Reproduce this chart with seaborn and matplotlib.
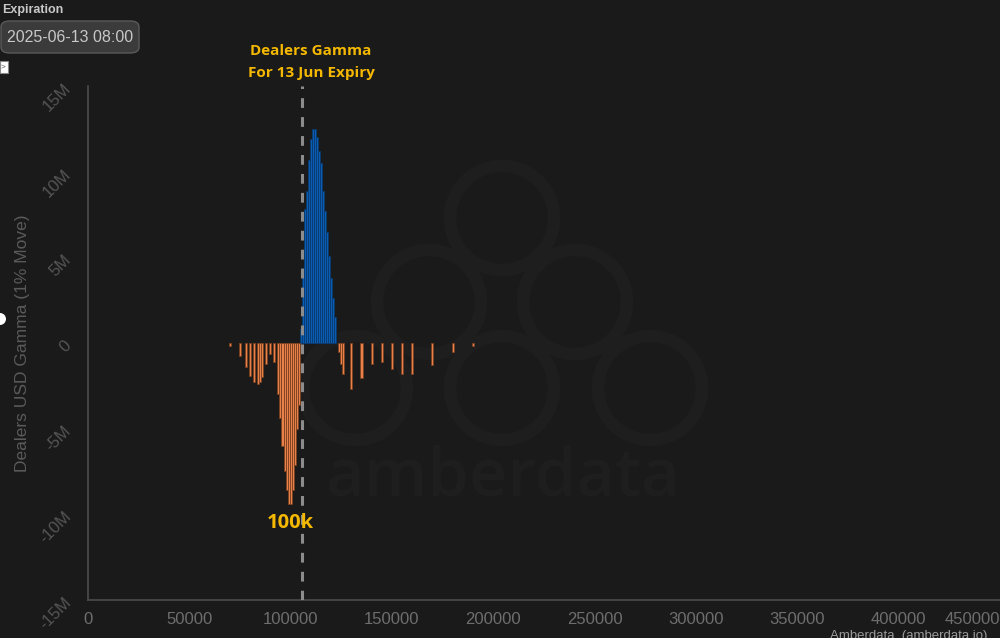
import matplotlib
matplotlib.use("Agg")
import matplotlib.pyplot as plt
import matplotlib.patches as mpatches
from matplotlib.ticker import FuncFormatter
import pandas as pd
import seaborn as sns

# dealers gamma per strike, in millions of USD (1% move)
strikes_pos = [105000, 106000, 107000, 108000, 109000, 110000, 111000, 112000, 113000,
               114000, 115000, 116000, 117000, 118000, 119000, 120000, 121000, 122000]
gamma_pos = [0.8, 4.4, 7.8, 8.9, 10.7, 11.9, 12.5, 12.5, 12.0,
             11.2, 10.5, 8.9, 7.7, 6.5, 5.1, 3.8, 2.6, 1.5]

strikes_neg = [70000, 75000, 78000, 80000, 82000, 84000, 85000, 86000, 88000, 90000,
               92000, 94000, 95000, 96000, 97000, 98000, 99000, 100000, 101000, 102000,
               103000, 104000, 124000, 125000, 126000, 130000, 135000, 140000, 145000,
               150000, 155000, 160000, 170000, 180000, 190000]
gamma_neg = [-0.2, -0.75, -1.4, -1.9, -2.3, -2.4, -2.3, -2.0, -1.2, -0.65,
             -1.1, -3.0, -4.4, -6.0, -7.5, -8.6, -9.4, -9.4, -8.6, -7.1,
             -5.0, -3.6, -0.5, -1.2, -1.8, -2.7, -2.05, -1.25, -1.1,
             -1.5, -1.8, -1.8, -1.3, -0.5, -0.2]

x_ticks = [0, 50000, 100000, 150000, 200000, 250000, 300000, 350000, 400000, 450000]
y_ticks = [-15, -10, -5, 0, 5, 10, 15]

spot = 105400
expiry = "2025-06-13 08:00"

bg = "#1a1a1a"
blue = "#0a5cb2"
orange = "#e8804a"
grey = "#6e6e6e"
gold = "#f5b800"
faint = "#1e1e1e"

sns.set_theme(style="dark", rc={
    "figure.facecolor": bg, "axes.facecolor": bg, "savefig.facecolor": bg,
    "axes.edgecolor": "#4a4a4a", "axes.grid": False,
})
plt.rcParams["font.family"] = ["Liberation Sans", "DejaVu Sans"]

df_pos = pd.DataFrame({"strike": strikes_pos, "gamma": gamma_pos})
df_neg = pd.DataFrame({"strike": strikes_neg, "gamma": gamma_neg})

fig = plt.figure(figsize=(10, 6.38), dpi=100)
ax = fig.add_axes([0.088, 0.0596, 0.9117, 0.8056])

# faint watermark logo (rings + word), drawn in figure pixels
rings = [(502, 218), (429, 302), (575, 302), (355, 388), (502, 388), (650, 388)]
for cx, cy in rings:
    ax.add_patch(mpatches.Ellipse((cx / 1000, 1 - cy / 638), 104 / 1000, 104 / 638,
                                  transform=fig.transFigure, facecolor="none",
                                  edgecolor=faint, lw=9, zorder=0, clip_on=False))
for cx, cy in rings:
    ax.add_patch(mpatches.Ellipse((cx / 1000, 1 - cy / 638), 90 / 1000, 90 / 638,
                                  transform=fig.transFigure, facecolor=bg,
                                  edgecolor="none", zorder=0.1, clip_on=False))
fig.text(0.503, 1 - 478 / 638, "amberdata", color=faint, fontsize=48,
         fontweight="semibold", ha="center", va="center", family="Open Sans", zorder=0)

sns.barplot(data=df_pos, x="strike", y="gamma", native_scale=True, errorbar=None,
            width=1.0, color=blue, saturation=1, edgecolor="#083a6e", linewidth=0.6,
            ax=ax, zorder=2)
sns.barplot(data=df_neg, x="strike", y="gamma", native_scale=True, errorbar=None,
            width=1.0, color=orange, saturation=1, edgecolor="#7a4020", linewidth=0.6,
            ax=ax, zorder=2)

ax.axvline(spot, color="#8c8c8c", lw=2.2, linestyle=(0, (3.2, 3.0)), zorder=3)

ax.set_xlim(0, 450000)
ax.set_ylim(-15, 15)
ax.set_xticks(x_ticks)
ax.set_yticks(y_ticks)
ax.yaxis.set_major_formatter(FuncFormatter(lambda v, p: "0" if v == 0 else f"{v:.0f}M"))
ax.xaxis.set_major_formatter(FuncFormatter(lambda v, p: f"{v:.0f}"))
ax.tick_params(axis="x", length=7, width=1, colors="#4a4a4a", labelcolor=grey,
               labelsize=12, pad=2)
ax.tick_params(axis="y", length=7, width=1, colors="#4a4a4a", labelcolor="#555555",
               labelsize=12, pad=7)
fig.canvas.draw()
for lab in ax.get_yticklabels():
    lab.set_rotation(45)
    lab.set_rotation_mode("anchor")
    lab.set_ha("right")
    lab.set_va("center")
ax.get_xticklabels()[-1].set_ha("right")
ax.set_xlabel("")
ax.set_ylabel("Dealers USD Gamma (1% Move)", color="#5a5a5a", fontsize=12.5)
ax.yaxis.set_label_coords(-0.064, 0.5)
for side in ["top", "right"]:
    ax.spines[side].set_visible(False)
for side in ["left", "bottom"]:
    ax.spines[side].set_color("#4a4a4a")

ax.annotate("Dealers Gamma\nFor 13 Jun Expiry", xy=(spot, 15), xytext=(311 / 1000, 1 - 62 / 638),
            textcoords="figure fraction", color=gold, fontsize=11, fontweight="bold",
            family="Open Sans", ha="center", va="center", linespacing=1.7)
ax.text(100000, -9.9, "100k", color=gold, fontsize=14.5, fontweight="bold",
        family="Open Sans", ha="center", va="top")

# page furniture around the chart
fig.text(0.002, 1 - 10 / 638, "Expiration", color="#c8c8c8", fontsize=9,
         fontweight="bold", va="center", ha="left")
box = mpatches.FancyBboxPatch((1 / 1000, 1 - 53 / 638), 138 / 1000, 32 / 638,
                              boxstyle="round,pad=0,rounding_size=0.009",
                              transform=fig.transFigure, facecolor="#3b3b3b",
                              edgecolor="#5a5a5a", lw=1)
fig.patches.append(box)
fig.text(0.070, 1 - 37 / 638, expiry, color="#c8c8c8", fontsize=11.5,
         ha="center", va="center")
fig.patches.append(mpatches.Rectangle((0, 1 - 73 / 638), 8 / 1000, 12 / 638,
                                      transform=fig.transFigure, facecolor="white",
                                      edgecolor="#888888", lw=0.8))
fig.text(0.001, 1 - 67 / 638, ">", color="#555555", fontsize=6, ha="left", va="center")
fig.patches.append(mpatches.Ellipse((0, 1 - 319 / 638), 12 / 1000, 12 / 638,
                                    transform=fig.transFigure, facecolor="white",
                                    edgecolor="none"))
fig.text(0.83, 1 - 636 / 638, "Amberdata  (amberdata.io)", color="#9a9a9a",
         fontsize=9.5, ha="left", va="center")

fig.savefig("out.png", dpi=100)
